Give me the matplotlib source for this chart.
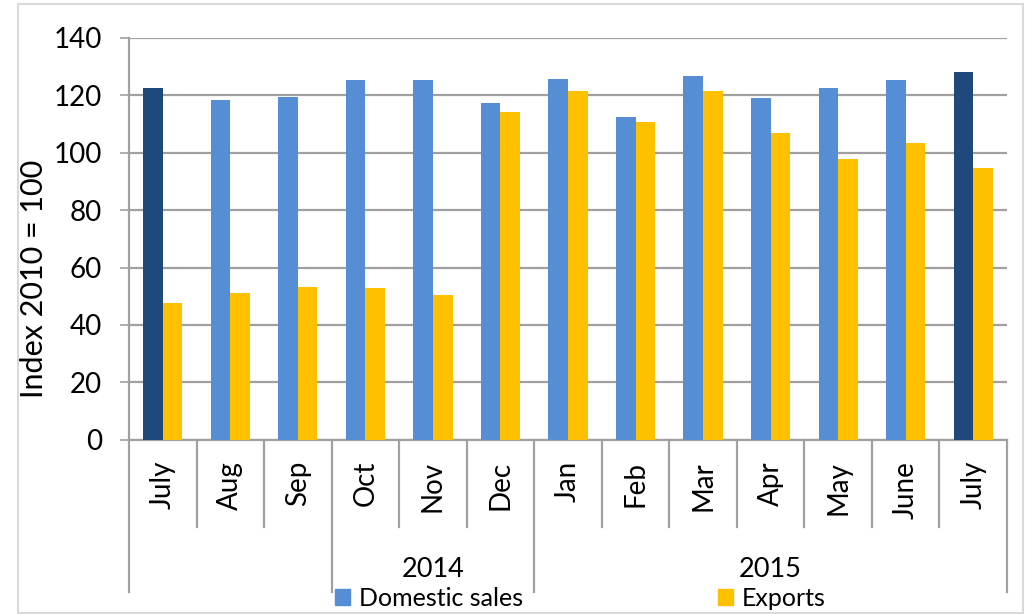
import numpy as np
import matplotlib.pyplot as plt
from matplotlib.patches import Patch

plt.rcParams['font.family'] = ['Lato', 'DejaVu Sans']

months = ['July', 'Aug', 'Sep', 'Oct', 'Nov', 'Dec', 'Jan', 'Feb', 'Mar', 'Apr', 'May', 'June', 'July']
domestic = [122.4, 118.2, 119.4, 125.2, 125.3, 117.1, 125.7, 112.3, 126.6, 119.0, 122.3, 125.2, 128.0]
exports = [47.5, 51.1, 53.2, 53.0, 50.3, 114.0, 121.4, 110.5, 121.4, 106.8, 97.6, 103.3, 94.6]
year_labels = ['2014', '2015']
year_spans = [(3, 5), (6, 12)]   # first / last month index of each year group
group_edges = [0, 3, 6, 13]      # long separators

light_blue = '#558ed5'
dark_blue = '#1f497d'
yellow = '#ffc000'
grey = '#a0a0a0'

fig = plt.figure(figsize=(10.25, 6.14), dpi=100)
ax = fig.add_axes([0.1259, 0.2834, 0.8565, 0.6555])

x = np.arange(len(months))
w = 0.29
dom_colors = [dark_blue if i in (0, len(months) - 1) else light_blue for i in x]
ax.bar(x - w / 2, domestic, w, color=dom_colors, zorder=3)
ax.bar(x + w / 2, exports, w, color=yellow, zorder=3)

ax.set_xlim(-0.5, len(months) - 0.5)
ax.set_ylim(0, 140)
ax.set_yticks(np.arange(0, 141, 20))
ax.yaxis.grid(True, color=grey, linewidth=1.6, zorder=0)
ax.tick_params(axis='y', labelsize=20, length=6.5, width=1.2, color=grey, pad=13)
ax.tick_params(axis='x', bottom=False, labelbottom=False)
for s in ['top', 'right']:
    ax.spines[s].set_visible(False)
for s in ['left', 'bottom']:
    ax.spines[s].set_color(grey)
    ax.spines[s].set_linewidth(1.6)
ax.set_ylabel('Index 2010 = 100', fontsize=22)
ax.yaxis.set_label_coords(-0.092, 0.40)

# category separators and labels below axis
trans = ax.get_xaxis_transform()
for k in range(len(months) + 1):
    depth = -0.378 if k in group_edges else -0.216
    ax.plot([k - 0.5, k - 0.5], [0, depth], color=grey, lw=1.6, transform=trans, clip_on=False)
for i, m in enumerate(months):
    ax.text(i, -0.052, m, rotation=90, ha='center', va='top', fontsize=20, transform=trans)
for lab, (a, b) in zip(year_labels, year_spans):
    ax.text((a + b) / 2, -0.323, lab, ha='center', va='center', fontsize=19.5, transform=trans)

handles = [Patch(color=light_blue, label='Domestic sales'), Patch(color=yellow, label='Exports')]
fig.legend(handles=handles, loc='center', bbox_to_anchor=(0.566, 0.026), ncol=2, frameon=False,
           fontsize=18, handlelength=0.6, handleheight=0.6, handletextpad=0.35, columnspacing=7.8,
           borderpad=0, borderaxespad=0)

fig.patches.append(plt.Rectangle((0.0176, 0.0016), 0.9804, 0.9919, transform=fig.transFigure,
                                 fill=False, edgecolor='#d9d9d9', linewidth=1.5))
fig.savefig('out.png', dpi=100)
